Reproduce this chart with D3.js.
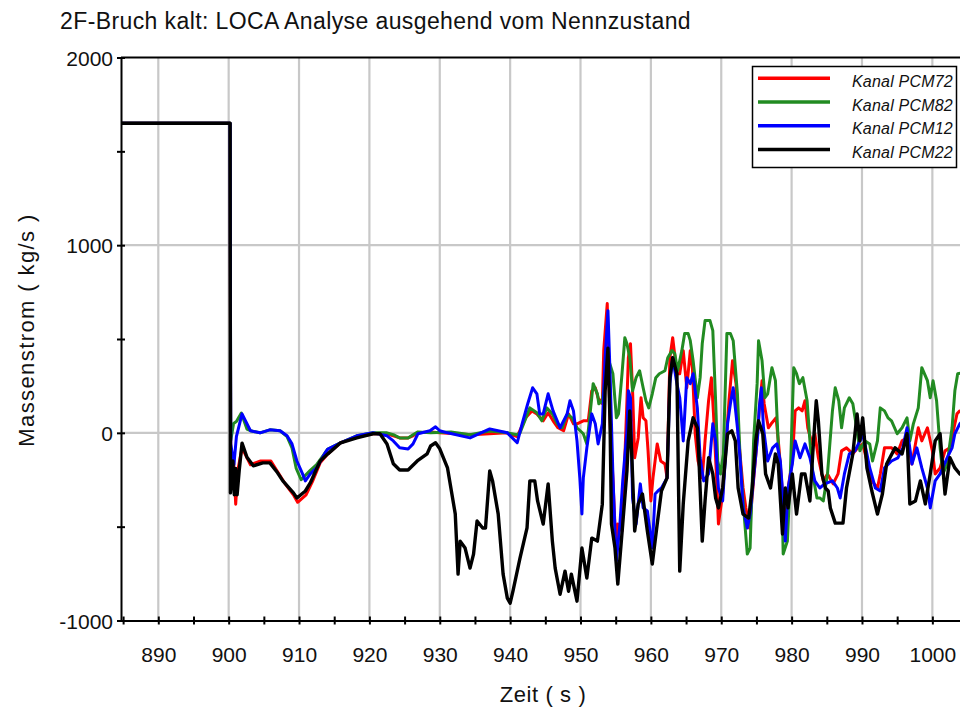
<!DOCTYPE html>
<html>
<head>
<meta charset="utf-8">
<script src="https://cdn.jsdelivr.net/npm/d3@7"></script>
<style>
  body { margin: 0; background: #fff; }
  svg { display: block; }
</style>
</head>
<body>
<svg id="chart" width="960" height="710"></svg>
<script>
// Mass flow through the four cold-leg channels, [time (s), mass flow (kg/s)]
const pcm72 = [[884,1650],[900.2,1650],[900.3,-300],[900.7,-150],[901.0,-380],[901.3,-200],[901.9,-80],[903.1,-170],[904.55,-150],[906,-150],[907,-210],[908,-270],[909.2,-330],[909.8,-370],[911,-330],[911.9,-260],[913.0,-160],[914.1,-112],[915.9,-53],[918.2,-22],[920.5,-5],[922.5,-5],[923.4,-16],[924.3,-27],[925.5,-27],[926.2,-16],[926.9,0],[928.7,5],[930.0,0],[934.6,-10],[939.5,0],[941.0,-20],[942.2,80],[943.1,117],[943.8,101],[944.7,64],[945.4,107],[946.1,64],[946.8,27],[947.6,11],[948.3,101],[949.0,48],[949.5,48],[950.4,64],[951.1,64],[951.6,224],[952.1,240],[952.5,187],[953.1,155],[953.3,438],[953.8,689],[954.2,48],[954.6,-240],[955.1,-668],[955.3,-486],[955.9,-523],[956.3,-133],[956.6,171],[956.8,400],[957.1,475],[957.4,224],[957.7,-133],[958.2,-27],[958.6,187],[958.9,80],[959.3,64],[959.6,-96],[960.0,-363],[960.3,-240],[960.9,-59],[961.4,-150],[962.0,-166],[962.3,-240],[962.7,400],[963.1,507],[963.7,315],[964.1,315],[964.6,438],[965.1,240],[965.6,438],[965.9,347],[966.3,-5],[966.7,-150],[967.3,-240],[967.7,-43],[968.2,171],[968.6,294],[968.9,101],[969.4,-294],[969.6,-486],[970.2,-326],[970.6,-96],[971.1,171],[971.6,384],[972.1,262],[972.5,-43],[973.1,-294],[973.5,-400],[974.0,-507],[974.5,-294],[975.0,-80],[975.4,117],[975.8,278],[976.1,155],[976.7,27],[977.1,48],[977.8,80],[978.2,-80],[978.8,-363],[979.1,-523],[979.5,-294],[980.1,-150],[980.5,117],[981.0,133],[981.5,117],[981.9,171],[982.3,27],[982.9,-59],[983.3,-5],[983.8,-133],[984.5,-256],[985.1,-219],[985.9,-272],[986.6,-219],[987.1,-96],[987.8,-80],[988.7,-112],[989.4,-80],[990.1,-59],[990.7,-150],[991.4,-256],[992.2,-294],[992.6,-219],[993.2,-80],[994.2,-80],[995.0,-112],[995.7,-43],[996.4,-27],[997.1,-166],[998.0,27],[998.5,-43],[999.3,27],[1000.0,-96],[1000.4,-219],[1001.1,-187],[1001.8,-96],[1002.5,-80],[1002.9,-5],[1003.5,101],[1003.9,117],[1004.2,117]];

const pcm82 = [[884,1650],[900.2,1650],[900.3,-40],[900.7,50],[901.1,60],[901.8,105],[902.6,20],[903.1,11],[904.45,0],[905.85,16],[907.3,11],[908.3,-20],[909.0,-80],[909.6,-190],[910.3,-250],[910.8,-230],[911.6,-200],[912.5,-170],[913.7,-107],[914.1,-86],[915.9,-53],[918.2,-16],[920.5,0],[922.5,0],[923.4,-10],[924.3,-27],[925.5,-27],[926.2,-10],[926.9,5],[928.7,0],[931.6,5],[934.3,-10],[937.1,10],[939.6,0],[941.0,-10],[941.4,0],[942.8,133],[943.8,107],[944.5,64],[945.2,133],[946.0,101],[946.7,48],[947.4,27],[948.1,101],[948.8,80],[949.5,27],[950.4,-5],[950.9,-59],[951.3,80],[951.8,262],[952.4,208],[952.6,155],[953.1,171],[953.5,294],[953.9,400],[954.6,315],[955.1,80],[955.4,101],[955.9,315],[956.3,507],[956.6,475],[957.0,400],[957.4,224],[957.9,294],[958.4,331],[958.9,240],[959.3,171],[959.7,133],[960.2,208],[960.7,294],[961.2,315],[962.0,331],[962.4,400],[963.0,438],[963.4,422],[963.8,331],[964.4,438],[964.8,529],[965.3,529],[965.6,491],[966.0,384],[966.6,187],[967.0,294],[967.3,475],[967.7,598],[968.4,598],[968.8,545],[969.2,171],[969.5,-150],[969.9,-219],[970.3,-112],[970.8,529],[971.3,529],[971.7,491],[972.3,208],[972.7,-150],[973.1,-363],[973.7,-646],[974.1,-614],[974.6,-43],[975.1,262],[975.3,491],[975.8,384],[976.2,187],[976.6,208],[977.2,347],[977.7,278],[978.1,-59],[978.7,-454],[978.8,-646],[979.4,-577],[979.8,-240],[980.3,347],[980.7,315],[981.1,262],[981.6,294],[982.2,171],[982.6,-43],[983.0,-219],[983.6,-347],[984.0,-347],[984.5,-363],[985.1,-219],[985.8,117],[986.2,240],[986.7,171],[987.1,27],[987.5,133],[988.2,187],[988.7,155],[989.3,11],[989.7,-96],[990.4,-43],[991.1,-59],[991.5,-150],[992.2,-43],[992.6,133],[993.2,117],[993.7,80],[994.2,64],[995.0,-5],[995.7,27],[996.4,80],[996.8,-43],[997.3,48],[998.0,133],[998.5,347],[999.3,278],[999.7,187],[1000.1,278],[1000.6,171],[1001.1,-80],[1001.5,-219],[1002.1,-166],[1002.8,27],[1003.2,224],[1003.6,315],[1004.2,320]];

const pcm12 = [[884,1650],[900.2,1650],[900.3,-60],[900.75,-170],[901.1,-20],[901.9,101],[903.1,11],[904.45,0],[905.85,16],[907.3,11],[908.3,-16],[909.0,-59],[909.7,-150],[910.5,-219],[910.9,-256],[911.6,-219],[912.5,-187],[913.7,-107],[914.1,-86],[915.9,-53],[918.2,-16],[920.5,0],[922.5,-16],[923.4,-43],[924.3,-80],[925.5,-86],[926.2,-59],[926.9,-5],[928.6,11],[929.4,32],[930.0,11],[931.1,0],[934.3,-27],[937.1,21],[939.6,0],[941.0,-53],[941.7,48],[942.5,155],[943.2,240],[943.8,208],[944.2,101],[944.7,101],[945.4,208],[946.1,117],[947.1,27],[948.1,101],[948.5,171],[949.0,117],[949.5,-43],[949.9,-240],[950.2,-432],[950.4,-240],[950.9,-80],[951.6,101],[952.1,48],[952.5,-59],[953.1,48],[953.5,400],[953.9,651],[954.2,315],[954.6,-219],[954.9,-523],[955.1,-683],[955.6,-486],[956.0,-256],[956.6,11],[956.8,224],[957.1,187],[957.4,-347],[957.9,-486],[958.5,-272],[958.9,-400],[959.5,-416],[960.2,-614],[960.6,-326],[961.0,-310],[961.5,-294],[962.3,-240],[962.7,262],[963.1,400],[963.7,262],[964.1,187],[964.6,-43],[965.1,294],[965.6,262],[966.0,315],[966.6,133],[967.0,-133],[967.5,-256],[968.2,-219],[968.8,48],[969.2,-43],[969.6,-294],[970.2,-363],[970.9,48],[971.3,155],[971.7,240],[972.3,27],[972.7,-150],[973.1,-400],[973.7,-507],[974.1,-433],[974.6,-240],[975.2,-5],[975.4,133],[975.7,240],[976.0,27],[976.6,-150],[977.3,-80],[977.9,-59],[978.4,-150],[978.8,-363],[979.1,-577],[979.5,-294],[980.1,-166],[980.5,-43],[981.2,-133],[981.9,-59],[982.6,-133],[983.3,-256],[984.0,-294],[984.7,-272],[985.8,-256],[986.5,-294],[986.9,-347],[987.5,-219],[988.2,-112],[989.0,-96],[989.7,-43],[990.1,-5],[990.7,-112],[991.1,-187],[991.9,-294],[992.6,-310],[993.2,-187],[994.2,-150],[995.1,-133],[995.8,-80],[996.4,27],[997.1,-166],[997.8,-80],[998.5,-187],[999.3,-294],[999.7,-400],[1000.4,-256],[1001.1,-219],[1002.1,-133],[1002.8,-80],[1003.2,-5],[1003.9,48],[1004.2,60]];

const pcm22 = [[884,1650],[900.2,1650],[900.25,-320],[900.6,-150],[900.8,-330],[901.0,-190],[901.2,-330],[901.5,-200],[901.9,-55],[902.6,-130],[903.5,-176],[904.85,-160],[905.85,-160],[906.95,-213],[907.7,-256],[909.2,-320],[909.7,-347],[910.9,-310],[911.6,-267],[913.0,-150],[914.1,-112],[915.9,-53],[918.2,-27],[920.5,-5],[921.5,-5],[922.5,-59],[923.4,-165],[924.3,-198],[925.5,-198],[926.8,-150],[928.2,-112],[928.7,-70],[929.4,-53],[930.0,-85],[931.1,-187],[932.2,-432],[932.6,-753],[932.9,-577],[933.6,-614],[934.3,-721],[934.8,-646],[935.3,-470],[936.1,-507],[936.5,-507],[937.1,-203],[937.5,-256],[938.3,-432],[939.0,-753],[939.6,-881],[940.0,-908],[940.4,-844],[941.4,-668],[942.4,-507],[942.8,-256],[943.5,-256],[943.9,-363],[944.7,-486],[945.4,-272],[946.0,-577],[946.4,-721],[947.1,-860],[947.8,-737],[948.3,-844],[948.7,-753],[949.5,-897],[950.2,-614],[950.9,-774],[951.6,-561],[952.4,-577],[953.1,-380],[953.5,224],[953.9,451],[954.2,48],[954.4,-486],[954.9,-614],[955.3,-806],[956.0,-486],[956.6,-203],[957.0,117],[957.3,-133],[957.7,-523],[958.2,-380],[958.8,-326],[959.5,-523],[960.2,-699],[960.9,-486],[961.5,-310],[962.3,-240],[962.7,293],[963.1,400],[963.7,315],[964.1,-737],[964.6,-379],[965.3,-43],[966.0,80],[966.6,27],[966.8,-112],[967.3,-577],[967.7,-363],[968.2,-133],[968.8,-219],[969.2,-347],[969.6,-400],[970.2,-294],[970.9,-5],[971.5,11],[972.0,-43],[972.4,-294],[973.1,-433],[973.9,-454],[974.4,-294],[974.9,-43],[975.3,64],[975.9,-5],[976.3,-219],[977.0,-294],[977.7,-112],[978.1,-166],[978.7,-539],[979.1,-294],[979.5,-400],[980.1,-219],[980.7,-433],[981.4,-219],[981.9,-219],[982.6,-363],[983.0,-112],[983.5,171],[983.8,64],[984.3,-219],[984.8,-294],[985.2,-310],[985.5,-400],[986.2,-481],[987.3,-481],[987.8,-294],[988.7,-112],[989.3,101],[989.7,-43],[990.1,80],[990.7,-187],[991.4,-310],[992.2,-433],[992.9,-326],[993.5,-166],[994.7,-80],[995.7,-112],[996.4,-5],[996.8,-379],[997.6,-363],[998.3,-256],[999.0,-379],[999.7,-219],[1000.4,-43],[1001.1,-5],[1001.8,-326],[1002.5,-133],[1003.2,-187],[1003.9,-219],[1004.2,-225]];

const seriesNames = ["Kanal PCM72", "Kanal PCM82", "Kanal PCM12", "Kanal PCM22"];
const seriesColors = ["#ff0000", "#228b22", "#0000ff", "#000000"];
const seriesWidths = [3, 3, 3, 3.4];
const seriesData = [pcm72, pcm82, pcm12, pcm22];

const xMajorTicks = [890, 900, 910, 920, 930, 940, 950, 960, 970, 980, 990, 1000];
const xAllTicks = d3.range(885, 1006, 5);
const yLabelTicks = [-1000, 0, 1000, 2000];
const yAllTicks = [-1000, -500, 0, 500, 1000, 1500, 2000];
const yGridTicks = [0, 1000];

const titleText = "2F-Bruch kalt: LOCA Analyse ausgehend vom Nennzustand";
const xTitle = "Zeit ( s )";
const yTitle = "Massenstrom ( kg/s )";

const FONT = "'Liberation Sans', Arial, Helvetica, sans-serif";
const svg = d3.select("#chart");

const area = { left: 121, top: 57.5, right: 960.5, bottom: 620.5 };
const x = d3.scaleLinear().domain([884.7, 1004]).range([area.left, area.right]);
const y = d3.scaleLinear().domain([-1000, 2000]).range([area.bottom, area.top]);

svg.append("rect").attr("width", 960).attr("height", 710).attr("fill", "#fff");

svg.append("defs").append("clipPath").attr("id", "plotClip")
  .append("rect")
  .attr("x", area.left).attr("y", area.top - 3)
  .attr("width", area.right - area.left).attr("height", area.bottom - area.top + 6);

// grid
const grid = svg.append("g").attr("stroke", "#c8c8c8").attr("stroke-width", 2.2);
grid.selectAll("line.v").data(xMajorTicks).join("line")
  .attr("x1", d => x(d)).attr("x2", d => x(d))
  .attr("y1", area.top).attr("y2", area.bottom);
grid.selectAll("line.h").data(yGridTicks).join("line")
  .attr("x1", area.left).attr("x2", area.right)
  .attr("y1", d => y(d)).attr("y2", d => y(d));

// frame top edge
svg.append("line")
  .attr("x1", area.left).attr("x2", area.right)
  .attr("y1", area.top).attr("y2", area.top)
  .attr("stroke", "#000").attr("stroke-width", 2);

// series lines
const line = d3.line().x(d => x(d[0])).y(d => y(d[1]));
const plotG = svg.append("g").attr("clip-path", "url(#plotClip)");
seriesData.forEach((data, i) => {
  plotG.append("path")
    .datum(data)
    .attr("d", line)
    .attr("fill", "none")
    .attr("stroke", seriesColors[i])
    .attr("stroke-width", seriesWidths[i])
    .attr("stroke-linejoin", "round")
    .attr("stroke-linecap", "round");
});

// axes
const xAxis = d3.axisBottom(x)
  .tickValues(xAllTicks)
  .tickSizeOuter(0)
  .tickFormat(d => (d % 10 === 0 ? d : ""));
const gx = svg.append("g").attr("transform", `translate(0,${area.bottom})`).call(xAxis);
gx.select(".domain").attr("stroke", "#000").attr("stroke-width", 2);
gx.selectAll(".tick line").attr("y1", -4).attr("y2", 4).attr("stroke", "#000").attr("stroke-width", 2);
gx.selectAll(".tick text")
  .attr("y", 41).attr("dy", 0)
  .attr("font-family", FONT).attr("font-size", 21).attr("fill", "#111");

const yAxis = d3.axisLeft(y)
  .tickValues(yAllTicks)
  .tickSizeOuter(0)
  .tickFormat(d => (yLabelTicks.includes(d) ? d : ""));
const gy = svg.append("g").attr("transform", `translate(${area.left},0)`).call(yAxis);
gy.select(".domain").attr("stroke", "#000").attr("stroke-width", 2);
gy.selectAll(".tick line").attr("x1", -4).attr("x2", 4).attr("stroke", "#000").attr("stroke-width", 2);
gy.selectAll(".tick text")
  .attr("x", -8).attr("dy", "0.36em")
  .attr("font-family", FONT).attr("font-size", 21).attr("fill", "#111");

// titles
svg.append("text")
  .attr("x", 60).attr("y", 29)
  .attr("font-family", FONT).attr("font-size", 23).attr("letter-spacing", 0.4).attr("fill", "#111")
  .text(titleText);

svg.append("text")
  .attr("x", 543).attr("y", 702)
  .attr("text-anchor", "middle")
  .attr("font-family", FONT).attr("font-size", 22).attr("letter-spacing", 0.6).attr("fill", "#111")
  .text(xTitle);

svg.append("text")
  .attr("transform", "translate(34,330) rotate(-90)")
  .attr("text-anchor", "middle")
  .attr("font-family", FONT).attr("font-size", 22).attr("letter-spacing", 1.4).attr("fill", "#111")
  .text(yTitle);

// legend
const legend = svg.append("g");
legend.append("rect")
  .attr("x", 752.5).attr("y", 66.5).attr("width", 204).attr("height", 101)
  .attr("fill", "#fff").attr("stroke", "#000").attr("stroke-width", 1.5);
const rowY = d3.scalePoint().domain(seriesNames).range([78.3, 149.5]);
seriesNames.forEach((name, i) => {
  legend.append("line")
    .attr("x1", 758).attr("x2", 830)
    .attr("y1", rowY(name)).attr("y2", rowY(name))
    .attr("stroke", seriesColors[i]).attr("stroke-width", 3.5);
  legend.append("text")
    .attr("x", 852).attr("y", rowY(name) + 8.5)
    .attr("font-family", FONT).attr("font-size", 16).attr("font-style", "italic")
    .attr("letter-spacing", 0.2)
    .attr("fill", "#111")
    .text(name);
});
</script>
</body>
</html>
